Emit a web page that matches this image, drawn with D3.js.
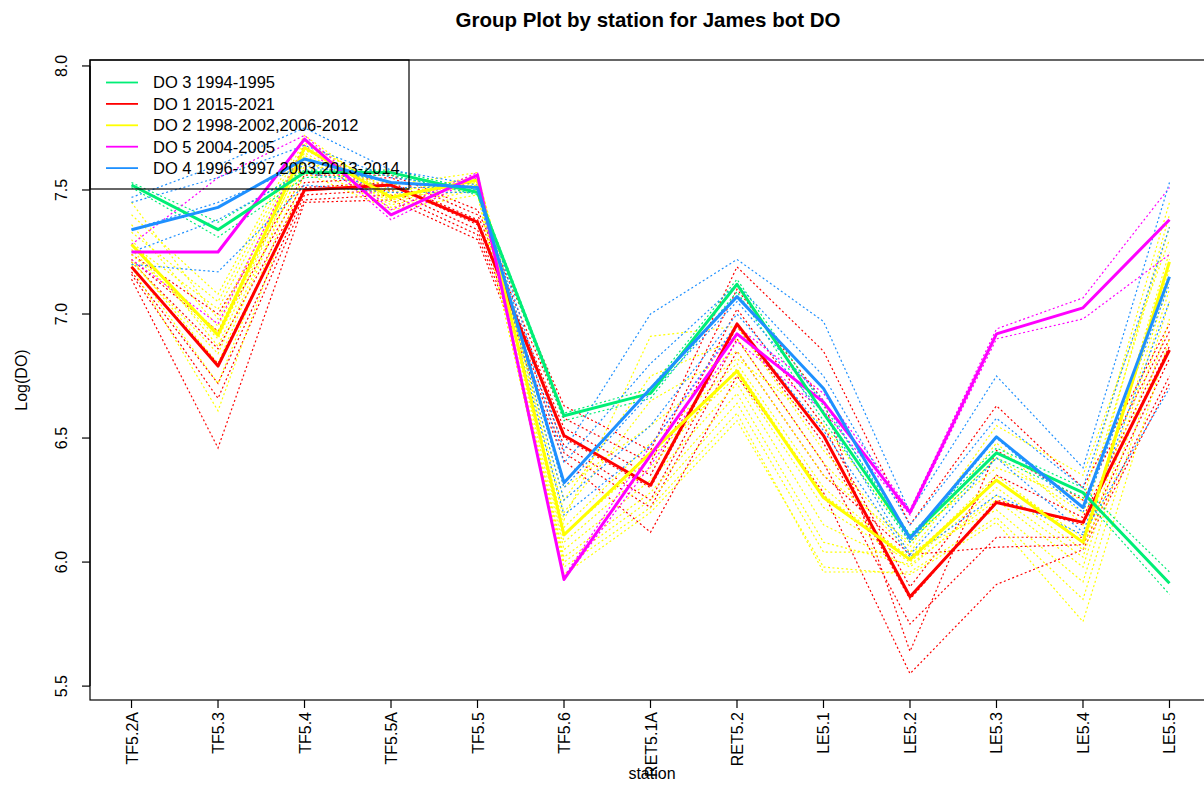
<!DOCTYPE html>
<html>
<head>
<meta charset="utf-8">
<script src="https://cdn.jsdelivr.net/npm/d3@7"></script>
<style>
  html, body { margin: 0; padding: 0; background: #fff; }
  svg text { font-family: "Liberation Sans", Arial, Helvetica, sans-serif; fill: #000; }
</style>
</head>
<body>
<svg id="chart" width="1204" height="788"></svg>
<script>
// Stations along the James River, upstream to downstream
const stations = ["TF5.2A", "TF5.3", "TF5.4", "TF5.5A", "TF5.5", "TF5.6", "RET5.1A",
                  "RET5.2", "LE5.1", "LE5.2", "LE5.3", "LE5.4", "LE5.5"];

const yTicks = [5.5, 6.0, 6.5, 7.0, 7.5, 8.0];

const groupNames = ["DO 3 1994-1995", "DO 1 2015-2021", "DO 2 1998-2002,2006-2012",
                    "DO 5 2004-2005", "DO 4 1996-1997,2003,2013-2014"];

// Group means of Log(DO) per station
const do3Mean = [7.52, 7.34, 7.57, 7.57, 7.49, 6.59, 6.68, 7.12, 6.60, 6.10, 6.44, 6.28, 5.915];
const do1Mean = [7.19, 6.79, 7.50, 7.52, 7.37, 6.51, 6.31, 6.96, 6.51, 5.86, 6.24, 6.16, 6.855];
const do2Mean = [7.28, 6.915, 7.67, 7.47, 7.54, 6.11, 6.44, 6.77, 6.26, 6.01, 6.33, 6.08, 7.21];
const do5Mean = [7.25, 7.25, 7.705, 7.40, 7.56, 5.93, 6.43, 6.92, 6.645, 6.20, 6.92, 7.025, 7.38];
const do4Mean = [7.34, 7.43, 7.625, 7.53, 7.51, 6.32, 6.70, 7.07, 6.70, 6.095, 6.505, 6.22, 7.15];

// Individual years within each group
const do3Years = [
  [7.53, 7.37, 7.58, 7.58, 7.50, 6.60, 6.70, 7.14, 6.63, 6.11, 6.46, 6.30, 5.96],
  [7.51, 7.31, 7.55, 7.56, 7.48, 6.57, 6.66, 7.09, 6.57, 6.08, 6.42, 6.26, 5.87]
];
const do1Years = [
  [7.24, 7.00, 7.56, 7.56, 7.42, 6.63, 6.45, 7.19, 6.85, 6.15, 6.63, 6.30, 6.96],
  [7.22, 6.93, 7.53, 7.55, 7.40, 6.58, 6.40, 7.10, 6.65, 5.64, 6.45, 6.25, 6.93],
  [7.21, 6.86, 7.51, 7.53, 7.38, 6.54, 6.35, 7.02, 6.55, 5.90, 6.35, 6.18, 6.90],
  [7.19, 6.80, 7.50, 7.52, 7.36, 6.50, 6.30, 6.95, 6.48, 5.85, 6.25, 6.15, 6.87],
  [7.17, 6.72, 7.48, 7.50, 7.34, 6.47, 6.25, 6.90, 6.40, 5.75, 6.10, 6.10, 6.82],
  [7.16, 6.66, 7.46, 7.48, 7.32, 6.44, 6.22, 6.85, 6.35, 6.03, 6.06, 6.07, 6.75],
  [7.14, 6.46, 7.45, 7.46, 7.30, 6.41, 6.12, 6.75, 6.28, 5.55, 5.91, 6.05, 6.72]
];
const do2Years = [
  [7.45, 6.98, 7.66, 7.52, 7.57, 6.17, 6.91, 6.95, 6.45, 6.06, 6.55, 6.35, 7.30],
  [7.40, 7.08, 7.72, 7.47, 7.56, 6.30, 6.55, 6.82, 6.55, 6.10, 6.38, 6.25, 7.45],
  [7.36, 6.95, 7.69, 7.50, 7.53, 6.25, 6.75, 6.90, 6.40, 6.04, 6.48, 6.15, 7.40],
  [7.33, 7.05, 7.70, 7.49, 7.55, 6.20, 6.65, 6.85, 6.35, 6.08, 6.42, 6.20, 7.35],
  [7.30, 6.87, 7.65, 7.46, 7.54, 6.08, 6.38, 6.78, 6.27, 6.02, 6.33, 6.10, 7.18],
  [7.28, 7.02, 7.68, 7.48, 7.52, 6.14, 6.48, 6.80, 6.30, 6.01, 6.35, 6.08, 7.25],
  [7.26, 6.90, 7.64, 7.45, 7.53, 6.11, 6.42, 6.75, 6.22, 6.00, 6.30, 6.05, 7.22],
  [7.24, 6.93, 7.67, 7.47, 7.54, 6.05, 6.33, 6.72, 6.15, 5.98, 6.27, 6.02, 7.14],
  [7.22, 6.80, 7.63, 7.44, 7.51, 6.02, 6.28, 6.68, 6.08, 5.99, 6.25, 5.98, 7.10],
  [7.21, 6.84, 7.62, 7.46, 7.52, 6.00, 6.25, 6.64, 6.04, 6.04, 6.21, 5.92, 7.05],
  [7.20, 6.72, 7.60, 7.43, 7.50, 5.98, 6.22, 6.60, 5.96, 5.96, 6.18, 5.85, 6.98],
  [7.19, 6.61, 7.57, 7.42, 7.48, 5.95, 6.20, 6.57, 5.98, 5.95, 6.16, 5.76, 6.90]
];
const do5Years = [
  [7.28, 7.55, 7.72, 7.42, 7.57, 5.94, 6.47, 6.95, 6.68, 6.21, 6.94, 7.065, 7.51],
  [7.22, 6.96, 7.68, 7.38, 7.55, 5.93, 6.39, 6.89, 6.61, 6.19, 6.90, 6.98, 7.24]
];
const do4Years = [
  [7.47, 7.60, 7.75, 7.58, 7.52, 6.45, 7.00, 7.22, 6.97, 6.20, 6.75, 6.38, 7.53],
  [7.45, 7.55, 7.68, 7.55, 7.51, 6.40, 6.80, 7.12, 6.75, 6.15, 6.58, 6.30, 7.35],
  [7.34, 7.45, 7.60, 7.53, 7.50, 6.30, 6.68, 7.05, 6.65, 6.08, 6.50, 6.20, 7.12],
  [7.25, 7.38, 7.57, 7.51, 7.51, 6.25, 6.55, 7.00, 6.60, 6.03, 6.42, 6.12, 7.05],
  [7.20, 7.17, 7.52, 7.49, 7.49, 6.19, 6.47, 6.96, 6.53, 6.02, 6.27, 6.11, 6.70]
];

// Group table (legend order)
const groups = [
  { name: groupNames[0], color: "#00EE76", mean: do3Mean, years: do3Years },
  { name: groupNames[1], color: "#FF0000", mean: do1Mean, years: do1Years },
  { name: groupNames[2], color: "#FFFF00", mean: do2Mean, years: do2Years },
  { name: groupNames[3], color: "#FF00FF", mean: do5Mean, years: do5Years },
  { name: groupNames[4], color: "#1E90FF", mean: do4Mean, years: do4Years }
];

const svg = d3.select("#chart");
const plot = { left: 90, right: 1211, top: 60, bottom: 700 };

const x = d3.scalePoint().domain(stations).range([plot.left, plot.right]).padding(0.48);
const y = d3.scaleLinear().domain([5.444, 8.024]).range([plot.bottom, plot.top]);

const line = d3.line()
  .x((d, i) => x(stations[i]))
  .y(d => y(d));

const lines = svg.append("g");

// Individual years: thin dotted lines
const dottedOrder = [1, 2, 0, 3, 4];
dottedOrder.forEach(gi => {
  const g = groups[gi];
  lines.selectAll(null)
    .data(g.years)
    .enter().append("path")
    .attr("d", line)
    .attr("fill", "none")
    .attr("stroke", g.color)
    .attr("stroke-width", 1.2)
    .attr("stroke-dasharray", "2,2.5");
});

// Group means: thick solid lines
const meanOrder = [1, 2, 3, 0, 4];
meanOrder.forEach(gi => {
  const g = groups[gi];
  lines.append("path")
    .attr("d", line(g.mean))
    .attr("fill", "none")
    .attr("stroke", g.color)
    .attr("stroke-width", 3)
    .attr("stroke-linejoin", "round");
});

// Plot frame
svg.append("rect")
  .attr("x", plot.left).attr("y", plot.top)
  .attr("width", plot.right - plot.left).attr("height", plot.bottom - plot.top)
  .attr("fill", "none").attr("stroke", "#000").attr("stroke-width", 1.2);

// Y axis (labels parallel to the axis)
const yAxis = svg.append("g");
yAxis.append("line")
  .attr("x1", plot.left).attr("x2", plot.left)
  .attr("y1", y(yTicks[0])).attr("y2", y(yTicks[yTicks.length - 1]))
  .attr("stroke", "#000").attr("stroke-width", 1.2);
yTicks.forEach(t => {
  yAxis.append("line")
    .attr("x1", plot.left - 8).attr("x2", plot.left)
    .attr("y1", y(t)).attr("y2", y(t))
    .attr("stroke", "#000").attr("stroke-width", 1.2);
  yAxis.append("text")
    .attr("transform", `translate(67,${y(t)}) rotate(-90)`)
    .attr("text-anchor", "middle")
    .attr("font-size", 16)
    .text(t.toFixed(1));
});

// X axis (labels perpendicular to the axis)
const xAxis = svg.append("g");
stations.forEach(s => {
  xAxis.append("line")
    .attr("x1", x(s)).attr("x2", x(s))
    .attr("y1", plot.bottom).attr("y2", plot.bottom + 8)
    .attr("stroke", "#000").attr("stroke-width", 1.2);
  xAxis.append("text")
    .attr("transform", `translate(${x(s) + 6},${plot.bottom + 12}) rotate(-90)`)
    .attr("text-anchor", "end")
    .attr("font-size", 16)
    .text(s);
});

// Axis titles
svg.append("text")
  .attr("x", 652).attr("y", 779)
  .attr("text-anchor", "middle")
  .attr("font-size", 16)
  .text("station");

svg.append("text")
  .attr("transform", `translate(27,${(plot.top + plot.bottom) / 2}) rotate(-90)`)
  .attr("text-anchor", "middle")
  .attr("font-size", 16)
  .text("Log(DO)");

// Title
svg.append("text")
  .attr("x", 648).attr("y", 27)
  .attr("text-anchor", "middle")
  .attr("font-size", 20.5)
  .attr("font-weight", "bold")
  .text("Group Plot by station for James bot DO");

// Legend
const legend = svg.append("g");
legend.append("rect")
  .attr("x", plot.left).attr("y", plot.top)
  .attr("width", 409 - plot.left).attr("height", 189 - plot.top)
  .attr("fill", "none").attr("stroke", "#000").attr("stroke-width", 1.2);
groups.forEach((g, i) => {
  const ly = 82.5 + i * 21.4;
  legend.append("line")
    .attr("x1", 106).attr("x2", 138)
    .attr("y1", ly).attr("y2", ly)
    .attr("stroke", g.color).attr("stroke-width", 1.8);
  legend.append("text")
    .attr("x", 153).attr("y", ly)
    .attr("dy", "0.36em")
    .attr("font-size", 16.5)
    .text(g.name);
});
</script>
</body>
</html>
